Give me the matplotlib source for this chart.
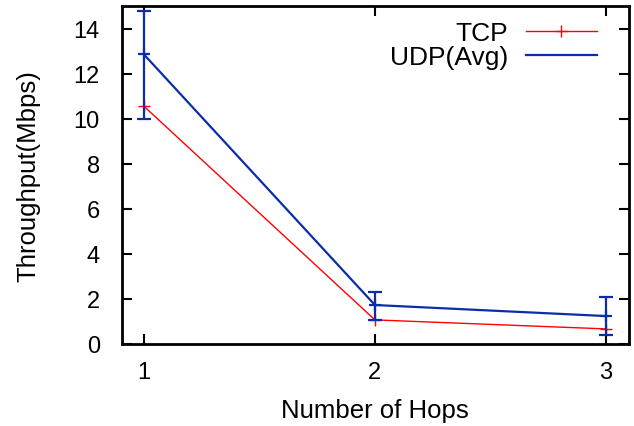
import matplotlib
matplotlib.use("Agg")
import matplotlib.pyplot as plt
from matplotlib.lines import Line2D

hops = [1, 2, 3]
tcp = [10.55, 1.07, 0.67]
udp = [12.85, 1.73, 1.24]
udp_low = [10.0, 1.05, 0.4]
udp_high = [14.8, 2.3, 2.08]

plt.rcParams['font.family'] = ['Liberation Sans', 'DejaVu Sans']
fig = plt.figure(figsize=(6.34, 4.27), dpi=100)
ax = fig.add_axes([122/634, 1-345/427, (629-122)/634, (345-7)/427])

red = '#ff0000'
blue = '#0a2ea8'
ax.plot(hops, tcp, color=red, lw=1.0, marker='+', ms=8, mew=1.0, label='TCP')
yerr = [[u - l for u, l in zip(udp, udp_low)], [h - u for u, h in zip(udp, udp_high)]]
ax.errorbar(hops, udp, yerr=yerr, color=blue, lw=1.6, capsize=5, capthick=1.6,
            elinewidth=1.6, marker='+', ms=8, mew=1.6, label='UDP(Avg)')

ax.set_xlim(0.905, 3.1)
ax.set_ylim(0, 15)
ax.set_xticks(hops)
ax.set_yticks(range(0, 15, 2))
ax.tick_params(direction='in', length=7, width=1.5, top=True, right=True, labelsize=17)
ax.tick_params(axis='y', pad=16)
ax.tick_params(axis='x', pad=12)
for s in ax.spines.values():
    s.set_linewidth(2)
ax.set_xlabel('Number of Hops', fontsize=18.5)
ax.set_ylabel('Throughput(Mbps)', fontsize=18.5)
ax.xaxis.set_label_coords(375/634, 1-418/427, transform=fig.transFigure)
ax.xaxis.label.set_va('baseline')
ax.yaxis.set_label_coords(28/634, 1-176/427, transform=fig.transFigure)
ax.yaxis.label.set_va('center')

labels = ['TCP', 'UDP(Avg)']
h2 = [Line2D([], [], color=red, lw=1.0, marker='+', ms=8),
      Line2D([], [], color=blue, lw=1.6)]
ax.legend(h2, labels, loc='upper right', bbox_to_anchor=(1 - 32/507, 1 - 15/338),
          frameon=False, markerfirst=False, fontsize=19,
          handlelength=2.7, borderaxespad=0.0, borderpad=0.0,
          handletextpad=0.68, labelspacing=0.0)

fig.savefig('out.png', dpi=100)
